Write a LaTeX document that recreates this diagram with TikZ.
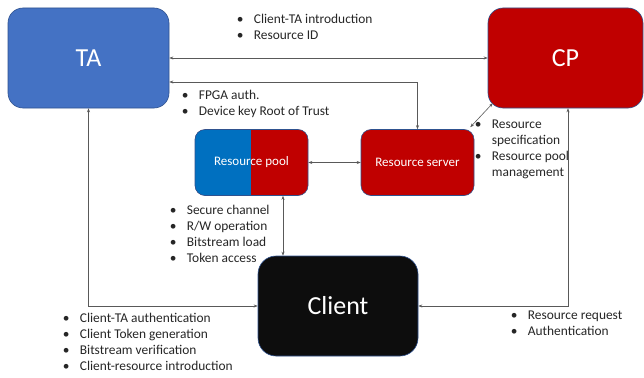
\documentclass[tikz,border=0pt]{standalone}
\usepackage{fontspec}
\setmainfont{Carlito}
\usetikzlibrary{arrows.meta}
\definecolor{taBlue}{HTML}{4472C4}
\definecolor{cpRed}{HTML}{C00000}
\definecolor{poolBlue}{HTML}{0070C0}
\definecolor{edgeBlue}{HTML}{2F528F}
\definecolor{clientBlack}{HTML}{0D0D0D}
\definecolor{lineGray}{HTML}{595959}
\newcommand{\bp}{\makebox[17pt][l]{\textbullet}}
\newcommand{\bq}{\hspace*{17pt}}
\tikzset{
  box/.style={draw=edgeBlue, line width=0.6pt, text=white, inner sep=0pt},
  bigbox/.style={box, rounded corners=15pt, font=\fontsize{26}{30}\selectfont},
  smallbox/.style={box, rounded corners=10pt, minimum width=113pt, minimum height=66pt, font=\fontsize{13}{16}\selectfont},
  conn/.style={draw=lineGray, line width=0.6pt, {Stealth[length=4pt,width=3pt]}-{Stealth[length=4pt,width=3pt]}},
  blist/.style={anchor=north west, align=left, inner sep=0pt, font=\fontsize{13.4}{16}\selectfont, text=black!85}
}
\begin{document}
\begin{tikzpicture}[x=1pt,y=-1pt]
\useasboundingbox[fill=white] (0,0) rectangle (644,377);
% boxes
\node[bigbox, fill=taBlue, minimum width=161pt, minimum height=100pt] (TA) at (88.5,58) {TA};
\node[bigbox, fill=cpRed, minimum width=155pt, minimum height=100pt] (CP) at (565.5,58) {CP};
\node[smallbox, fill=cpRed] (RS) at (417.5,162.5) {Resource server};
\node[smallbox, fill=cpRed, path picture={\fill[poolBlue, sharp corners] (path picture bounding box.south west) rectangle ([xshift=56pt]path picture bounding box.north west);}] (RP) at (251.5,162.5) {Resource pool};
\node[bigbox, fill=clientBlack, rounded corners=18pt, minimum width=160pt, minimum height=100pt] (CL) at (338,306) {Client};
% helper coordinates
\coordinate (c1) at (283,0);
% connectors
\draw[conn] (TA.east) -- (CP.west);
\draw[conn] ([yshift=-24pt]TA.east) -| (RS.north);
\draw[conn] (RP.east) -- (RS.west);
\draw[conn] ([xshift=-4pt,yshift=2pt]RS.north east) -- ([xshift=5pt,yshift=5pt]CP.south west);
\draw[conn] (RP.south -| c1) -- (CL.north -| c1);
\draw[conn] (TA.south) |- (CL.west);
\draw[conn] ([xshift=2.5pt]CP.south) |- (CL.east);
% bullet lists
\node[blist] (LA) at (236.7,13.5) {\bp Client-TA introduction\\\bp Resource ID};
\node[blist] (LB) at (181.7,89.5) {\bp FPGA auth.\\\bp Device key Root of Trust};
\node[blist] (LC) at (474.7,119.5) {\bp Resource\\\bq specification\\\bp Resource pool\\\bq management};
\node[blist] (LD) at (169.7,204.5) {\bp Secure channel\\\bp R/W operation\\\bp Bitstream load\\\bp Token access};
\node[blist] (LE) at (62.7,312.5) {\bp Client-TA authentication\\\bp Client Token generation\\\bp Bitstream verification\\\bp Client-resource introduction};
\node[blist] (LF) at (510.7,310.5) {\bp Resource request\\\bp Authentication};
\end{tikzpicture}
\end{document}
